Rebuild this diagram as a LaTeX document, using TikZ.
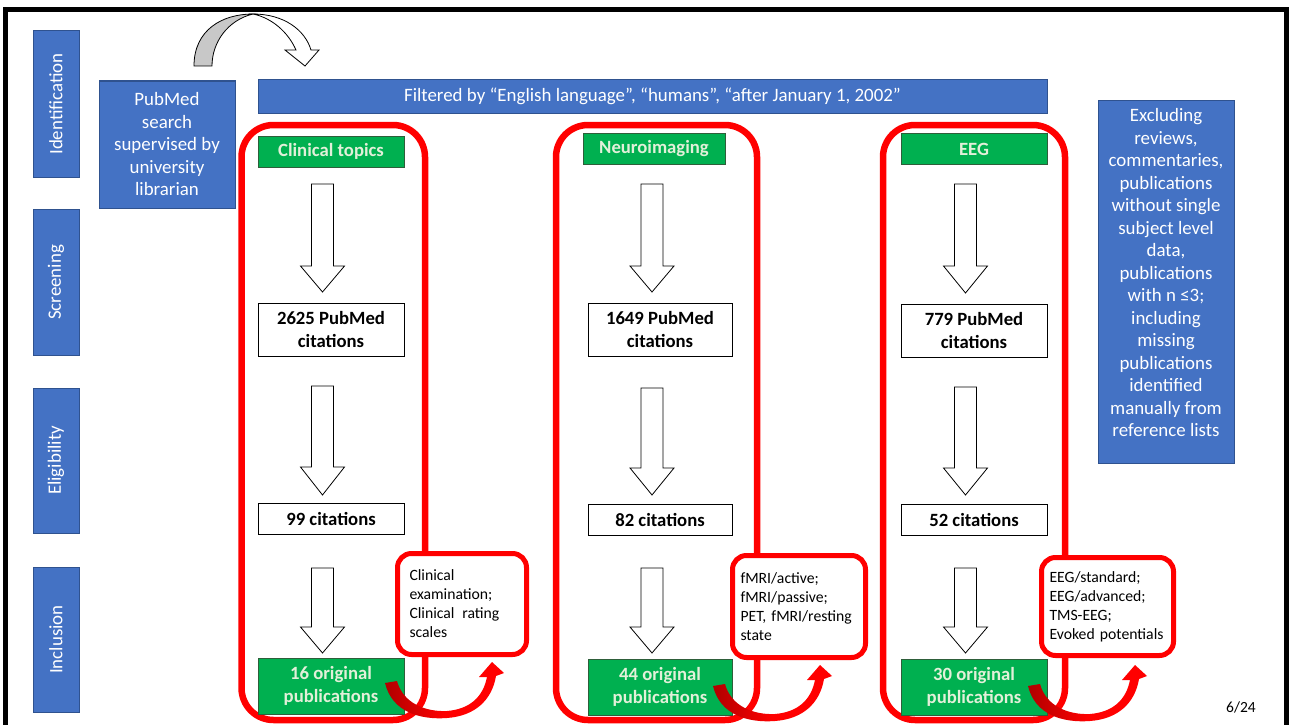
\documentclass[tikz,border=0pt]{standalone}
\usepackage{fontspec}
\setmainfont{Carlito}
\usetikzlibrary{arrows.meta}
\definecolor{pblue}{HTML}{4472C4}
\definecolor{pblueb}{HTML}{2F528F}
\definecolor{pgreen}{HTML}{00B050}
\definecolor{pgreenb}{HTML}{2E5E3A}
\definecolor{pgtext}{HTML}{E2F0D9}
\definecolor{pred}{HTML}{FF0000}
\definecolor{pdred}{HTML}{B00000}
\definecolor{pgrey}{HTML}{C8C8C8}
\newcommand\hollowdown[4]{%
  \draw[hollow] (#1-11,#2) -- (#1+11,#2) -- (#1+11,#3) -- (#1+22,#3) -- (#1,#4) -- (#1-22,#3) -- (#1-11,#3) -- cycle;}
\newcommand\swoosh{%
  \shade[left color=pdred, right color=pred, middle color=pred]
   (385,683) .. controls (392,712) and (420,720) .. (447,718)
   .. controls (475,716) and (492,700) .. (496,676) -- (504,673) -- (492,662) -- (479,677) -- (487,677)
   .. controls (483,697) and (470,709) .. (447,711)
   .. controls (425,712) and (403,703) .. (397,681) -- cycle;}
\tikzset{
  bigfont/.style={font=\fontsize{18.9}{22.5}\selectfont},
  phase/.style={fill=pblue, draw=pblueb, line width=1pt, text=white, bigfont, rotate=90,
    minimum width=146pt, minimum height=46pt, inner sep=0pt},
  bluebox/.style={fill=pblue, draw=pblueb, line width=1pt, text=white, bigfont, align=center, inner sep=0pt},
  headbox/.style={fill=pgreen, draw=pgreenb, line width=0.8pt, text=pgtext,
    font=\fontsize{18.7}{22.5}\selectfont\bfseries, minimum width=146pt, minimum height=31pt, inner sep=0pt},
  citebox/.style={fill=white, draw=black, line width=0.8pt, text=black,
    font=\fontsize{18.7}{22.5}\selectfont\bfseries, align=center, minimum width=146pt, inner sep=0pt},
  pubbox/.style={fill=pgreen, draw=pgreenb, line width=0.8pt, text=pgtext,
    font=\fontsize{18.7}{22.5}\selectfont\bfseries, align=center, minimum width=146pt, minimum height=56pt, inner sep=0pt},
  callout/.style={fill=white, draw=pred, line width=5pt, rounded corners=14pt, text=black,
    font=\fontsize{15.7}{19}\selectfont, align=left, inner ysep=0pt},
  groupframe/.style={draw=pred, line width=6.5pt, rounded corners=32pt},
  hollow/.style={fill=white, draw=black, line width=0.8pt},
}
\begin{document}
\begin{tikzpicture}[x=1pt,y=-1pt]
\useasboundingbox (0,0) rectangle (1293,725);
\fill[white] (0,0) rectangle (1293,725);
% outer frame
\draw[black, line width=5pt] (5.5,760) -- (5.5,9.5) -- (1286.5,9.5) -- (1286.5,760);

% phase labels
\node[phase] (id) at (56,104) {Identification};
\node[phase] (scr) at (56,282.5) {Screening};
\node[phase, minimum width=145pt] (elig) at (56,460.5) {Eligibility};
\node[phase, minimum width=145pt] (incl) at (56,639.5) {Inclusion};

% top curved arrow
\fill[pgrey] (194,66) .. controls (194,30) and (222,14) .. (253,14) .. controls (228,20) and (212,42) .. (212,66) -- cycle;
\draw[black, line width=0.8pt] (194,66) .. controls (194,30) and (222,14) .. (253,14) .. controls (228,20) and (212,42) .. (212,66) -- cycle;
\draw[hollow] (253,14) .. controls (284,14) and (305,30) .. (311,50) -- (319,50) -- (305,66) -- (285,50) -- (296,50) .. controls (288,32) and (272,18) .. (253,14) -- cycle;

% blue boxes
\node[bluebox, minimum width=136pt, minimum height=127pt] (pub) at (167,144.5)
  {PubMed\\search\\supervised by\\university\\librarian};
\node[bluebox, minimum width=789pt, minimum height=33pt] (filt) at (652.5,96.5)
  {Filtered by “English language”, “humans”, “after January 1, 2002”};
\node[bluebox, minimum width=136pt, minimum height=363pt] (excl) at (1166,281.5)
  {Excluding\\reviews,\\commentaries,\\publications\\without single\\subject level\\data,\\publications\\with n ≤3;\\including\\missing\\publications\\identified\\manually from\\reference lists\\[-4.5pt]\mbox{}};

% group frames
\draw[groupframe] (241.5,125) rectangle (425,720);
\draw[groupframe] (556,125) rectangle (757,720);
\draw[groupframe] (883,125) rectangle (1065,720);

% headers
\node[headbox] (h1) at (331,151.5) {Clinical topics};
\node[headbox, minimum width=142pt] (h2) at (654,149) {Neuroimaging};
\node[headbox] (h3) at (974,149) {EEG};

% hollow arrows
\hollowdown{322.5}{184}{266}{292}
\hollowdown{652}{184}{266}{292}
\hollowdown{965.5}{184}{266}{293}
\hollowdown{322.5}{386}{467}{495}
\hollowdown{652}{388}{468}{495}
\hollowdown{965.5}{387}{468}{495}
\hollowdown{322.5}{568}{627}{653}
\hollowdown{652}{568}{627}{653}
\hollowdown{965.5}{568}{627}{653}

% citation boxes
\node[citebox, minimum height=53pt] (a1) at (331,329.5) {2625 PubMed\\citations};
\node[citebox, minimum width=144pt, minimum height=53pt] (a2) at (660,329.5) {1649 PubMed\\citations};
\node[citebox, minimum height=53pt] (a3) at (974,330.5) {779 PubMed\\citations};
\node[citebox, minimum height=31pt] (b1) at (331,518.5) {99 citations};
\node[citebox, minimum width=144pt, minimum height=31pt] (b2) at (660,519.5) {82 citations};
\node[citebox, minimum height=31pt] (b3) at (974,519.5) {52 citations};
\node[pubbox] (p1) at (331,686) {16 original\\publications};
\node[pubbox, minimum width=144pt] (p2) at (660,687) {44 original\\publications};
\node[pubbox] (p3) at (974,687) {30 original\\publications};

% callouts
\node[callout, text width=105pt, inner xsep=12pt, minimum height=101pt] (c1) at (462,604)
  {Clinical\\examination;\\Clinical\enspace rating\\scales};
\node[callout, text width=117pt, inner xsep=8pt, minimum height=102pt] (c2) at (799,606.5)
  {fMRI/active;\\fMRI/passive;\\PET, fMRI/resting\\state};
\node[callout, text width=116pt, inner xsep=8pt, minimum height=98pt] (c3) at (1107.5,606.5)
  {EEG/standard;\\EEG/advanced;\\TMS-EEG;\\Evoked potentials};

% red curved arrows (from each result box to its callout)
\swoosh
\begin{scope}[shift={(328,3)}]\swoosh\end{scope}
\begin{scope}[shift={(643,3)}]\swoosh\end{scope}

% page number
\node[font=\fontsize{15.5}{18}\selectfont] (pg) at (1241,707) {6/24};
\end{tikzpicture}
\end{document}
